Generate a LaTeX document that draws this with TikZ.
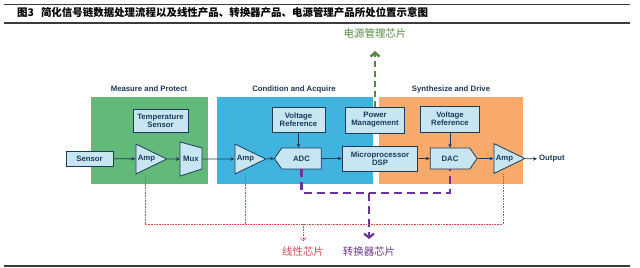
\documentclass[tikz,border=0pt]{standalone}
\usepackage{fontspec}
\setmainfont{Liberation Sans}
\newfontfamily\cjk{Noto Sans CJK SC}
\usepackage{tikz}
\usetikzlibrary{positioning,arrows.meta,shapes.geometric,shapes.symbols}
\usepackage{xcolor}

\definecolor{zgreen}{RGB}{98,186,122}
\definecolor{zblue}{RGB}{64,180,222}
\definecolor{zorange}{RGB}{248,170,108}
\definecolor{boxfill}{RGB}{200,230,242}
\definecolor{navy}{RGB}{28,58,92}
\definecolor{pwrgreen}{RGB}{82,138,62}
\definecolor{cvtpurple}{RGB}{108,52,150}
\definecolor{linred}{RGB}{222,70,80}
\definecolor{rulegray}{RGB}{60,60,60}

\begin{document}
\begin{tikzpicture}[x=1bp, y=-1bp, >={Stealth[length=4pt,width=3.6pt]},
    font=\fontsize{7.8}{8}\selectfont\bfseries,
    zone/.style={inner sep=0, draw=none},
    hdr/.style={text=navy, inner sep=0},
    blk/.style={draw=navy, fill=boxfill, text=navy, line width=0.8, inner sep=0, align=center},
    amp/.style={isosceles triangle, isosceles triangle stretches, draw=navy, fill=boxfill,
      text=navy, line width=0.8, inner sep=0, minimum width=30, minimum height=31},
    conv/.style={signal, signal from=nowhere, draw=navy, fill=boxfill, text=navy,
      line width=0.8, inner sep=0, minimum width=47, minimum height=21, signal pointer angle=110},
    sig/.style={->, draw=navy, line width=0.8},
    cjklab/.style={inner sep=0, font=\cjk\fontsize{10.5}{12}\selectfont},
    lin/.style={draw=linred, densely dotted, line width=0.6},
    cvt/.style={draw=cvtpurple, line width=2.2, dash pattern=on 8pt off 5pt},
    pwr/.style={draw=pwrgreen, line width=2.4, dash pattern=on 6pt off 4pt}]

\useasboundingbox[fill=white] (0,0) rectangle (640,267);

\draw[rulegray, line width=1] (4,4) -- (630,4);
\draw[rulegray, line width=1.6] (4,23) -- (630,23);
\draw[rulegray, line width=1.6] (4,266) -- (630,266);
\node[anchor=west, inner sep=0, font=\cjk\bfseries\fontsize{10.5}{12}\selectfont] (ttl) at (17,13)
  {图3\hspace{7bp}简化信号链数据处理流程以及线性产品、转换器产品、电源管理产品所处位置示意图};

\node[zone, fill=zgreen, minimum width=117, minimum height=87] (mp) at (149.5,140.5) {};
\node[zone, fill=zblue, minimum width=156, minimum height=87] (ca) at (295,140.5) {};
\node[zone, fill=zorange, minimum width=144, minimum height=87] (sd) at (451,140.5) {};
\node[hdr] (mpT) at (149,89) {Measure and Protect};
\node[hdr] (caT) at (294,89) {Condition and Acquire};
\node[hdr] (sdT) at (451,89) {Synthesize and Drive};

\node[blk, minimum width=55, minimum height=23] (temp) at (160.5,120.5) {Temperature\\Sensor};
\node[blk, minimum width=47, minimum height=15] (sensor) at (89.5,158.5) {Sensor};
\node[amp] (ampA) at (146.5,159) {Amp};
\fill[boxfill, draw=navy, line width=0.8] (180,142) -- (202,148) -- (202,169) -- (180,176) -- cycle;
\node[inner sep=0, minimum width=22, minimum height=34, text=navy] (mux) at (191,159) {Mux};
\node[amp] (ampB) at (245.5,159) {Amp};
\node[blk, minimum width=53, minimum height=25] (vrefA) at (298.5,119.5) {Voltage\\Reference};
\node[conv, signal to=west] (adc) at (301.5,158.5) {ADC};
\node[blk, minimum width=60, minimum height=26] (pm) at (375,120) {Power\\Management};
\node[blk, minimum width=76, minimum height=25] (dsp) at (380,158.5) {Microprocessor\\DSP};
\node[blk, minimum width=60, minimum height=26] (vrefB) at (450,119) {Voltage\\Reference};
\node[conv, signal to=east] (dac) at (450,158.5) {DAC};
\node[amp] (ampC) at (504.5,158.5) {Amp};
\node[text=navy, anchor=west, inner sep=2] (out) at (537,159) {Output};

\path[sig]
  (sensor) edge (ampA)
  (ampA) edge (mux)
  (mux) edge (ampB)
  (ampB) edge (adc)
  (adc) edge (dsp)
  (dsp) edge (dac)
  (dac) edge (ampC)
  (ampC) edge (out)
  (vrefA) edge (vrefA |- adc.north)
  (vrefB) edge (vrefB |- dac.north);

\node[cjklab, text=pwrgreen] (pwrT) at (375,34) {电源管理芯片};
\draw[pwr, -{Straight Barb[length=4pt,width=9pt]}, shorten >=12pt] (pm) -- (pwrT);

\coordinate (cvtbus) at (369,193);
\node[cjklab, text=cvtpurple] (cvtT) at (369,252) {转换器芯片};
\draw[cvt] (adc.south) |- (cvtbus) -| (dac.south);
\draw[cvt, -{Straight Barb[length=4pt,width=10pt]}, shorten >=8pt] (cvtbus) -- (cvtT);

\coordinate (tA) at (145,174);
\coordinate (tB) at (245,174);
\coordinate (tC) at (503,174);
\coordinate (linbus) at (303,224);
\node[cjklab, text=linred] (linT) at (303,252) {线性芯片};
\draw[lin] (tA) |- (linbus) -| (tC);
\draw[lin] (tB) -- (tB |- linbus);
\draw[lin, -{Straight Barb[length=3pt,width=6pt]}, shorten >=6pt] (linbus) -- (linT);
\end{tikzpicture}
\end{document}
